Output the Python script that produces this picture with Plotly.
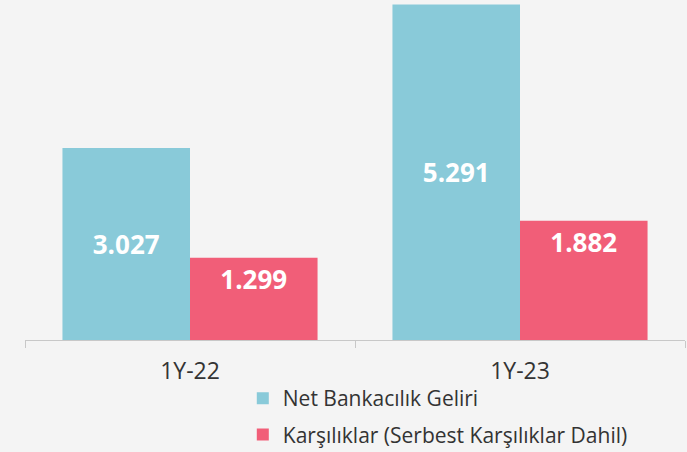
import plotly.graph_objects as go

categories = ["1Y-22", "1Y-23"]
series_names = ["Net Bankacılık Geliri", "Karşılıklar (Serbest Karşılıklar Dahil)"]
net_banking = [3027, 5291]
provisions = [1299, 1882]

colors = ["#89cad9", "#f15e78"]
anchors = ["middle", "end"]

fig = go.Figure()
for i, (name, vals, col, anc) in enumerate(zip(series_names, [net_banking, provisions], colors, anchors)):
    fig.add_trace(go.Bar(
        x=categories, y=vals, name=name, legendgroup=f"g{i}",
        marker=dict(color=col, line=dict(width=0)),
        texttemplate="%{y:,}", textposition="inside", insidetextanchor=anc,
        textfont=dict(family="Open Sans", size=26, color="white", weight="bold"),
        hoverinfo="skip",
    ))

fig.update_layout(
    width=687, height=452,
    barmode="group", bargap=0.227, bargroupgap=0,
    separators=",.",
    paper_bgcolor="#f4f4f4", plot_bgcolor="#f4f4f4",
    margin=dict(l=25, r=2, t=0, b=112, autoexpand=False),
    font=dict(family="Open Sans", color="#333333"),
    xaxis=dict(
        showline=True, linecolor="#c8c8c8", linewidth=1,
        ticks="outside", tickson="boundaries", ticklen=7, tickcolor="#c8c8c8",
        tickfont=dict(size=23, color="#333333"), showgrid=False,
        ticklabelstandoff=10,
    ),
    yaxis=dict(range=[0, 5.363 * 1000], visible=False, showgrid=False),
    legend=dict(
        orientation="v", x=0.33, xanchor="left", y=-0.112, yanchor="top",
        font=dict(size=21, color="#333333"), itemwidth=30,
        tracegroupgap=6, bgcolor="rgba(0,0,0,0)",
    ),
    showlegend=True,
)

fig.write_html(
    "out.html",
    config={"displayModeBar": False},
    post_script="document.body.style.margin='0';document.body.style.background='#f4f4f4';",
)
